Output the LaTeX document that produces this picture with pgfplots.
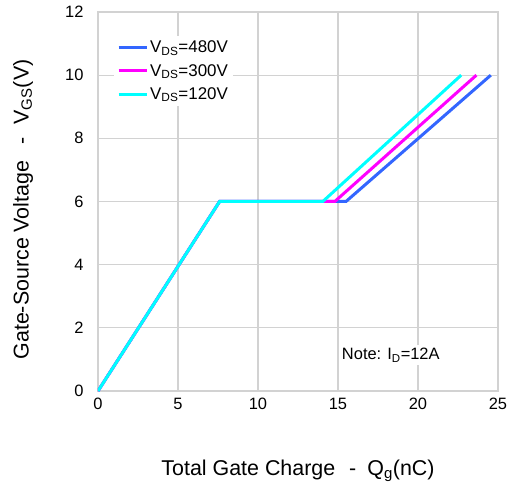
\documentclass[border=0pt]{standalone}
\usepackage{pgfplots}
\pgfplotsset{compat=1.18}
\usepackage{fontspec}
\setmainfont{Liberation Sans}
\definecolor{cblue}{RGB}{51,102,255}
\definecolor{cmag}{RGB}{255,0,255}
\definecolor{ccyan}{RGB}{0,255,255}
\definecolor{gridgray}{RGB}{210,210,210}
\begin{document}
\begin{tikzpicture}
\begin{axis}[
  scale only axis,
  width=400bp, height=379bp,
  xmin=0, xmax=25, ymin=0, ymax=12,
  xtick={0,5,...,25}, ytick={0,2,...,12},
  grid=major,
  major grid style={gridgray, line width=1.2bp},
  axis line style={gridgray, line width=1.5bp},
  major tick length=0pt,
  /pgf/number format/assume math mode=true,
  ticklabel style={font=\fontsize{16.5}{20}\selectfont},
  xticklabel style={yshift=-4bp},
  yticklabel style={xshift=-11bp},
  xlabel={Total Gate Charge\hspace{14bp}-\hspace{11bp}Q\textsubscript{g}(nC)},
  ylabel={Gate-Source Voltage\hspace{16bp}-\hspace{13bp}V\textsubscript{GS}(V)},
  label style={font=\fontsize{21.5}{25}\selectfont},
  xlabel style={at={(rel axis cs:0.5,0)}, anchor=center, yshift=-80bp},
  ylabel style={at={(rel axis cs:0,0.5)}, anchor=center, yshift=75bp, xshift=-8bp},
  legend style={at={(axis cs:1.0,11.25)}, anchor=north west, draw=none, fill=white,
    font=\fontsize{17}{20}\selectfont, row sep=6bp, inner sep=3bp,
    nodes={xshift=2bp}},
  legend cell align=left,
  legend image code/.code={\draw[#1, line width=3bp] (0bp,0bp) -- (28bp,0bp);},
]
\addplot[cblue, line width=3bp] coordinates {(0,0) (7.6,6) (15.5,6) (24.55,10)};
\addlegendentry{V\textsubscript{DS}=480V}
\addplot[cmag, line width=3bp] coordinates {(0,0) (7.6,6) (14.8,6) (23.65,10)};
\addlegendentry{V\textsubscript{DS}=300V}
\addplot[ccyan, line width=3bp] coordinates {(0,0) (7.6,6) (14.05,6) (22.7,10)};
\addlegendentry{V\textsubscript{DS}=120V}
\node[fill=white, inner sep=3bp, font=\fontsize{16.5}{20}\selectfont] at (axis cs:18.3,1.14) {Note: I\textsubscript{D}=12A};
\coordinate (ll) at (rel axis cs:0,0);
\coordinate (ur) at (rel axis cs:1,1);
\end{axis}
\pgfresetboundingbox
\path ([shift={(-98bp,-95bp)}]ll) rectangle ([shift={(15bp,12bp)}]ur);
\end{tikzpicture}
\end{document}
